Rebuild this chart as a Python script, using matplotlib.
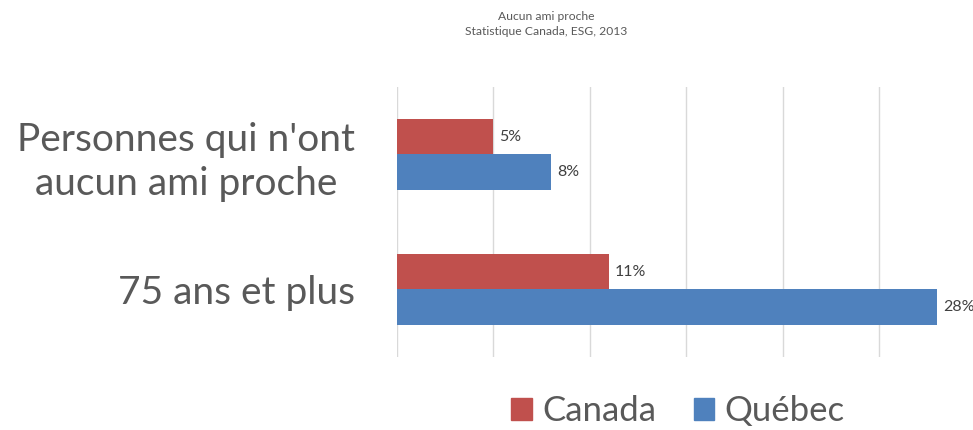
import matplotlib.pyplot as plt
import numpy as np
from matplotlib.patches import Patch

plt.rcParams['font.family'] = ['Lato', 'DejaVu Sans']

# data
categories = ["Personnes qui n'ont\naucun ami proche", "75 ans et plus"]
canada = [5, 11]
quebec = [8, 28]
series_names = ["Canada", "Québec"]
x_ticks = [0, 5, 10, 15, 20, 25, 30]

red = '#C0504D'
blue = '#4F81BD'
grey_txt = '#595959'

fig = plt.figure(figsize=(9.73, 4.3), dpi=100)
ax = fig.add_axes([0.408, 0.170, 0.595, 0.628])

y = np.arange(len(categories))
h = 0.263
ax.barh(y - h / 2, canada, height=h, color=red, zorder=3)
ax.barh(y + h / 2, quebec, height=h, color=blue, zorder=3)

# data labels
for yy, vals in [(y - h / 2, canada), (y + h / 2, quebec)]:
    for yi, v in zip(yy, vals):
        ax.text(v + 0.3, yi, f"{v}%", va='center', ha='left',
                fontsize=11.5, color='#404040', clip_on=False)

ax.set_xlim(0, 30)
ax.set_ylim(1.5, -0.5)
ax.set_xticks(x_ticks)
ax.set_xticklabels([])
ax.xaxis.grid(True, color='#D9D9D9', lw=1, zorder=0)
ax.tick_params(axis='both', length=0)
ax.set_yticks(y)
ax.set_yticklabels(categories, fontsize=28, color=grey_txt,
                   multialignment='center', linespacing=1.27)
ax.tick_params(axis='y', pad=30)
for s in ax.spines.values():
    s.set_visible(False)

# title
fig.text(0.561, 0.975, "Aucun ami proche\nStatistique Canada, ESG, 2013",
         ha='center', va='top', fontsize=8.7, color=grey_txt, linespacing=1.5)

# legend
handles = [Patch(color=red), Patch(color=blue)]
fig.legend(handles, series_names, loc='center', bbox_to_anchor=(0.697, 0.044),
           ncol=2, frameon=False, fontsize=25, labelcolor=grey_txt,
           handlelength=0.58, handleheight=0.58, handletextpad=0.3,
           columnspacing=1.1)

fig.savefig('out.png', dpi=100)
